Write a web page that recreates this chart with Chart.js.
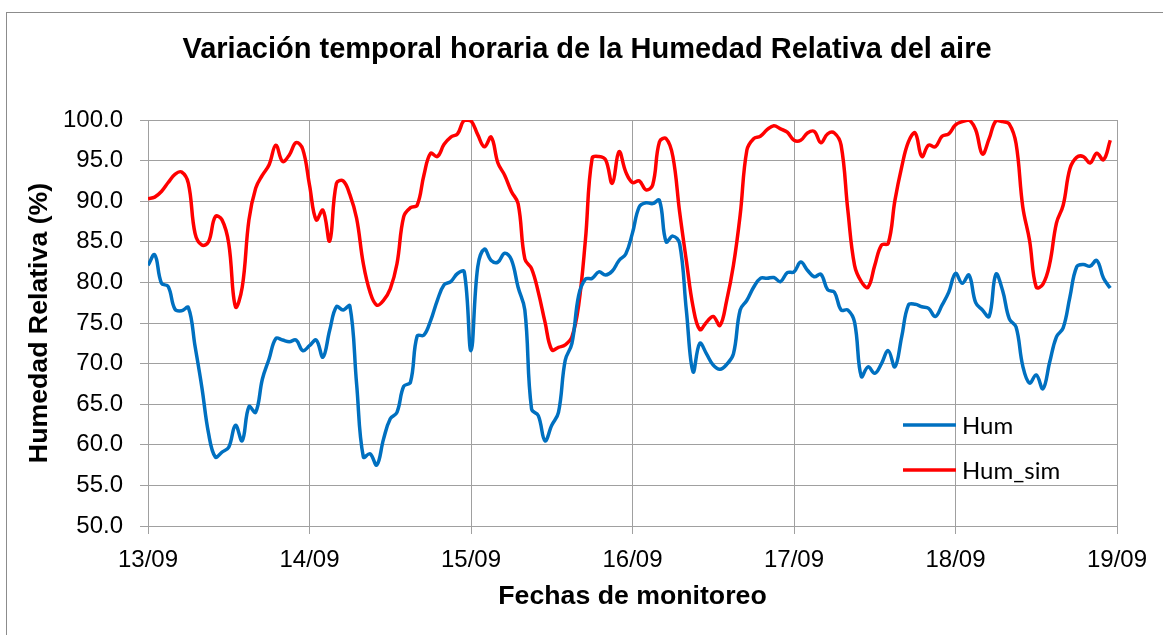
<!DOCTYPE html>
<html>
<head>
<meta charset="utf-8">
<script src="https://cdn.jsdelivr.net/npm/chart.js@4/dist/chart.umd.min.js"></script>
<style>
  html, body { margin: 0; padding: 0; background: #ffffff; }
  #wrap { width: 1163px; height: 635px; }
</style>
</head>
<body>
<div id="wrap"><canvas id="chartHum" width="1163" height="635"></canvas></div>
<script>
// ── Datos (lecturas horarias, 13/09 00h → 18/09 23h) ──
const FECHAS = ['13/09', '14/09', '15/09', '16/09', '17/09', '18/09', '19/09'];

const HUM = [
    82.1, 83.4, 79.9, 79.5, 76.7, 76.5, 76.9, 72.1, 67.1, 61.4, 58.5, 59.1,
    59.7, 62.4, 60.5, 64.7, 64.0, 68.1, 70.6, 73.1, 72.9, 72.7, 72.9, 71.6,
    72.2, 72.9, 70.8, 74.1, 77.0, 76.6, 77.1, 67.5, 58.5, 58.9, 57.5, 60.7,
    63.2, 64.0, 67.2, 67.7, 73.4, 73.5, 75.3, 77.8, 79.7, 80.1, 81.1, 81.3,
    71.6, 81.9, 84.1, 82.7, 82.5, 83.6, 82.8, 79.4, 76.6, 64.4, 63.6, 60.5,
    62.4, 64.0, 70.4, 72.5, 78.4, 80.4, 80.5, 81.3, 80.9, 81.4, 82.7, 83.5,
    86.1, 89.3, 89.8, 89.7, 90.1, 85.0, 85.7, 84.8, 76.6, 69.0, 72.5, 71.2,
    69.8, 69.3, 69.9, 71.2, 76.6, 77.8, 79.4, 80.5, 80.5, 80.6, 80.1, 81.2,
    81.3, 82.5, 81.5, 80.7, 81.0, 79.1, 78.8, 76.6, 76.6, 75.1, 68.4, 69.6,
    68.8, 70.0, 71.6, 69.6, 73.3, 77.2, 77.3, 77.0, 76.8, 75.8, 77.2, 78.8,
    81.1, 79.9, 80.9, 77.5, 76.6, 75.8, 81.0, 79.0, 75.5, 74.5, 69.7, 67.6,
    68.6, 66.9, 70.2, 73.3, 74.4, 78.2, 81.9, 82.2, 82.0, 82.7, 80.5, 79.3
];

const HUM_SIM = [
    90.3, 90.5, 91.2, 92.3, 93.3, 93.6, 92.2, 86.0, 84.6, 85.0, 88.1, 87.7,
    84.8, 77.0, 79.4, 87.7, 91.6, 93.2, 94.5, 96.9, 94.9, 95.7, 97.2, 96.4,
    92.0, 87.7, 88.9, 85.1, 92.2, 92.5, 90.8, 87.9, 82.3, 78.8, 77.2, 77.8,
    79.2, 82.3, 88.1, 89.2, 89.5, 93.2, 95.9, 95.5, 97.0, 97.9, 98.3, 100.0,
    99.9, 98.2, 96.7, 97.9, 94.7, 93.2, 91.2, 89.7, 82.9, 81.7, 78.8, 75.1,
    71.7, 72.0, 72.3, 73.3, 77.2, 85.2, 95.3, 95.5, 95.1, 92.2, 96.1, 93.6,
    92.3, 92.5, 91.4, 92.0, 97.3, 97.7, 95.5, 88.7, 82.7, 77.0, 74.2, 75.1,
    75.8, 74.7, 77.8, 82.1, 88.3, 96.3, 97.7, 98.0, 98.8, 99.3, 98.9, 98.5,
    97.5, 97.5, 98.4, 98.6, 97.2, 98.3, 98.4, 96.9, 88.9, 82.1, 80.1, 79.4,
    82.1, 84.6, 84.8, 90.1, 94.2, 97.3, 98.4, 95.5, 96.9, 96.7, 98.0, 98.3,
    99.4, 99.8, 100.0, 98.8, 95.8, 97.7, 99.9, 99.8, 99.5, 97.1, 89.3, 85.2,
    79.4, 79.8, 82.3, 87.3, 89.5, 94.0, 95.4, 95.5, 94.7, 95.9, 95.1, 97.5
];

const Y_MIN = 50, Y_MAX = 100, Y_PASO = 5;
const HORAS_DIA = 24;

const AZUL = '#0070c0';
const ROJO = '#ff0000';
const GRIS = '#a0a0a0';

const TITULO = 'Variación temporal horaria de la Humedad Relativa del aire';
const TITULO_Y = 'Humedad Relativa (%)';
const TITULO_X = 'Fechas de monitoreo';

const aPuntos = serie => serie.map((v, i) => ({ x: i, y: v }));

// ── Textos, marco y leyenda dibujados a mano ──
const decorado = {
    id: 'decorado',
    beforeDraw(chart) {
        const ctx = chart.ctx;
        ctx.save();
        ctx.fillStyle = '#ffffff';
        ctx.fillRect(0, 0, chart.width, chart.height);
        ctx.strokeStyle = '#8c8c8c';
        ctx.lineWidth = 1;
        ctx.strokeRect(6.5, 12.5, chart.width + 10, chart.height + 10);
        ctx.restore();
    },
    afterDraw(chart) {
        const ctx = chart.ctx;
        const area = chart.chartArea;
        ctx.save();
        ctx.fillStyle = '#000000';
        ctx.textAlign = 'center';
        ctx.textBaseline = 'middle';

        ctx.font = 'bold 29px "Liberation Sans", Arial, sans-serif';
        ctx.fillText(TITULO, 587, 50);

        ctx.font = 'bold 26.7px "Liberation Sans", Arial, sans-serif';
        ctx.fillText(TITULO_X, (area.left + area.right) / 2, 597);

        ctx.save();
        ctx.translate(40, (area.top + area.bottom) / 2);
        ctx.rotate(-Math.PI / 2);
        ctx.fillText(TITULO_Y, 0, 0);
        ctx.restore();

        // leyenda dentro del área
        const items = [
            { txt: 'Hum', color: AZUL, y: 425 },
            { txt: 'Hum_sim', color: ROJO, y: 470 }
        ];
        ctx.font = '24px Lato, "Open Sans", sans-serif';
        ctx.textAlign = 'left';
        items.forEach(it => {
            ctx.strokeStyle = it.color;
            ctx.lineWidth = 3.5;
            ctx.beginPath();
            ctx.moveTo(903, it.y);
            ctx.lineTo(956, it.y);
            ctx.stroke();
            ctx.fillText(it.txt, 962, it.y + 1);
        });
        ctx.restore();
    }
};

new Chart(document.getElementById('chartHum'), {
    type: 'line',
    data: {
        datasets: [
            {
                label: 'Hum',
                data: aPuntos(HUM),
                borderColor: AZUL,
                borderWidth: 3.5,
                pointRadius: 0,
                tension: 0.4,
                fill: false
            },
            {
                label: 'Hum_sim',
                data: aPuntos(HUM_SIM),
                borderColor: ROJO,
                borderWidth: 3.5,
                pointRadius: 0,
                tension: 0.4,
                fill: false
            }
        ]
    },
    options: {
        responsive: false,
        animation: false,
        devicePixelRatio: 1,
        layout: { padding: { top: 120, right: 46, bottom: 0, left: 0 } },
        plugins: {
            legend: { display: false },
            title: { display: false },
            tooltip: { enabled: false }
        },
        scales: {
            x: {
                type: 'linear',
                min: 0,
                max: HORAS_DIA * (FECHAS.length - 1),
                afterFit: s => { s.height = 109; },
                afterBuildTicks: s => {
                    s.ticks = FECHAS.map((_, i) => ({ value: i * HORAS_DIA }));
                },
                ticks: {
                    callback: v => FECHAS[v / HORAS_DIA],
                    color: '#000000',
                    font: { family: '"Liberation Sans", Arial, sans-serif', size: 24 },
                    padding: 12,
                    maxRotation: 0,
                    autoSkip: false
                },
                grid: { color: GRIS, lineWidth: 1, tickLength: 8, tickColor: GRIS },
                border: { color: GRIS, width: 1 }
            },
            y: {
                min: Y_MIN,
                max: Y_MAX,
                afterFit: s => { s.width = 148; },
                ticks: {
                    stepSize: Y_PASO,
                    callback: v => v.toFixed(1),
                    color: '#000000',
                    font: { family: '"Liberation Sans", Arial, sans-serif', size: 24 },
                    padding: 17
                },
                grid: { color: GRIS, lineWidth: 1, tickLength: 8, tickColor: GRIS },
                border: { color: GRIS, width: 1 }
            }
        }
    },
    plugins: [decorado]
});
</script>
</body>
</html>
